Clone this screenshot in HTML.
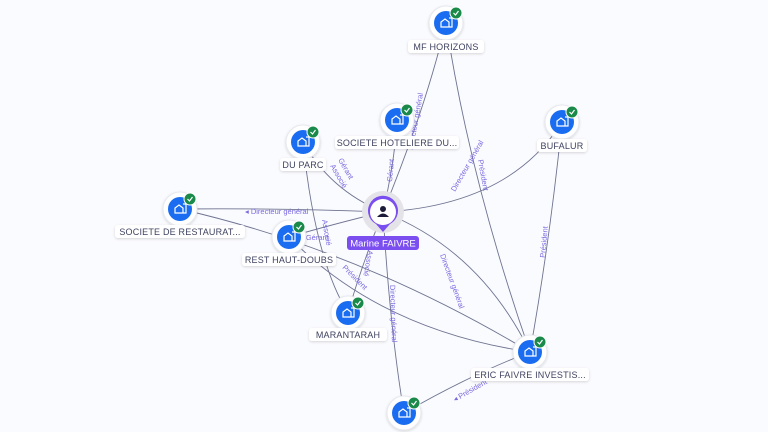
<!DOCTYPE html>
<html><head><meta charset="utf-8"><style>
html,body{margin:0;padding:0;background:#fafbfe;width:768px;height:432px;overflow:hidden}
svg{display:block}
.lbl{font-family:"Liberation Sans",sans-serif;font-size:9px;fill:#3f4260;letter-spacing:0.2px}
.el{font-family:"Liberation Sans",sans-serif;font-size:7.5px;fill:#7a6ae0}
</style></head><body>
<svg width="768" height="432" viewBox="0 0 768 432" xmlns="http://www.w3.org/2000/svg">
<defs>
<filter id="sh" x="-50%" y="-50%" width="200%" height="200%"><feDropShadow dx="0" dy="1" stdDeviation="1.2" flood-color="#000" flood-opacity="0.15"/></filter>
<g id="n">
<circle r="17" fill="#fff" stroke="#e6e8ee" filter="url(#sh)"/>
<circle r="12" fill="#1a6cf0"/>
<path d="M-5 4 V-1 L-1 -4 L3 -1 V4 Z M3 -5 H6 V4 H3" fill="none" stroke="#fff" stroke-width="1.2"/>
<circle cx="10" cy="-10" r="6" fill="#1a8a4a" stroke="#fff" stroke-width="1"/>
<path d="M7.5 -10 L9.5 -8 L12.5 -12" fill="none" stroke="#fff" stroke-width="1.2"/>
</g>
</defs>
<g fill="none" stroke="#6f7391" stroke-width="0.9">
<path d="M383 212 Q425 110 446 23"/>
<path d="M383 212 Q395 160 397 120"/>
<path d="M383 212 Q330 190 303 142"/>
<path d="M383 212 Q510 205 562 122"/>
<path d="M383 212 Q280 208 180 209"/>
<path d="M383 212 Q330 225 289 237"/>
<path d="M383 212 Q360 270 348 313"/>
<path d="M383 212 Q480 250 530 352"/>
<path d="M383 212 Q390 330 404 413"/>
<path d="M446 23 Q470 180 530 352"/>
<path d="M562 122 Q550 240 530 352"/>
<path d="M303 142 Q315 260 348 313"/>
<path d="M180 209 Q360 250 530 352"/>
<path d="M289 237 Q380 330 530 352"/>
<path d="M404 413 Q470 375 530 352"/>
</g>
<g class="el">
<text x="245" y="214">◂ Directeur général</text>
<text x="300" y="240">◂ Gérant</text>
<text transform="translate(338,160) rotate(60)">Gérant</text>
<text transform="translate(330,166) rotate(60)">Associé</text>
<text transform="translate(392,182) rotate(-85)">Gérant</text>
<text transform="translate(413,150) rotate(-80)">Directeur général</text>
<text transform="translate(455,192) rotate(-60)">Directeur général</text>
<text transform="translate(478,160) rotate(80)">Président</text>
<text transform="translate(440,255) rotate(70)">Directeur général</text>
<text transform="translate(390,285) rotate(88)">Directeur général</text>
<text transform="translate(368,250) rotate(100)">Associé</text>
<text transform="translate(322,220) rotate(80)">Associé</text>
<text transform="translate(342,268) rotate(45)">Président</text>
<text transform="translate(545,258) rotate(-85)">Président</text>
<text transform="translate(455,402) rotate(-30)">◂ Président</text>
</g>
<circle cx="383" cy="212" r="21" fill="#e3e3e8"/>
<path d="M383 232 L376 224 A15 15 0 1 1 390 224 Z" fill="#7b4ef0"/>
<circle cx="383" cy="212" r="13" fill="#fff"/>
<circle cx="383" cy="209" r="3" fill="#1c1c3a"/>
<path d="M377 217 Q383 210 389 217 Z" fill="#1c1c3a"/>
<rect x="347" y="236" width="72" height="14" rx="3" fill="#7b4ef0"/>
<text x="383" y="246.5" text-anchor="middle" font-family="Liberation Sans,sans-serif" font-size="9.5" fill="#fff">Marine FAIVRE</text>
<use href="#n" x="446" y="23"/>
<use href="#n" x="397" y="120"/>
<use href="#n" x="303" y="142"/>
<use href="#n" x="562" y="122"/>
<use href="#n" x="180" y="209"/>
<use href="#n" x="289" y="237"/>
<use href="#n" x="348" y="313"/>
<use href="#n" x="530" y="352"/>
<use href="#n" x="404" y="413"/>
<g filter="url(#sh)">
<rect x="408" y="40" width="76" height="13" rx="3" fill="#fff"/>
<rect x="335" y="136" width="124" height="13" rx="3" fill="#fff"/>
<rect x="280" y="158" width="46" height="13" rx="3" fill="#fff"/>
<rect x="537" y="139" width="50" height="13" rx="3" fill="#fff"/>
<rect x="115" y="225" width="130" height="13" rx="3" fill="#fff"/>
<rect x="242" y="253" width="94" height="13" rx="3" fill="#fff"/>
<rect x="309" y="328" width="78" height="13" rx="3" fill="#fff"/>
<rect x="471" y="368" width="118" height="13" rx="3" fill="#fff"/>
</g>
<text class="lbl" x="446" y="50" text-anchor="middle">MF HORIZONS</text>
<text class="lbl" x="397" y="146" text-anchor="middle">SOCIETE HOTELIERE DU...</text>
<text class="lbl" x="303" y="168" text-anchor="middle">DU PARC</text>
<text class="lbl" x="562" y="149" text-anchor="middle">BUFALUR</text>
<text class="lbl" x="180" y="235" text-anchor="middle">SOCIETE DE RESTAURAT...</text>
<text class="lbl" x="289" y="263" text-anchor="middle">REST HAUT-DOUBS</text>
<text class="lbl" x="348" y="338" text-anchor="middle">MARANTARAH</text>
<text class="lbl" x="530" y="378" text-anchor="middle">ERIC FAIVRE INVESTIS...</text>
</svg>
</body></html>
